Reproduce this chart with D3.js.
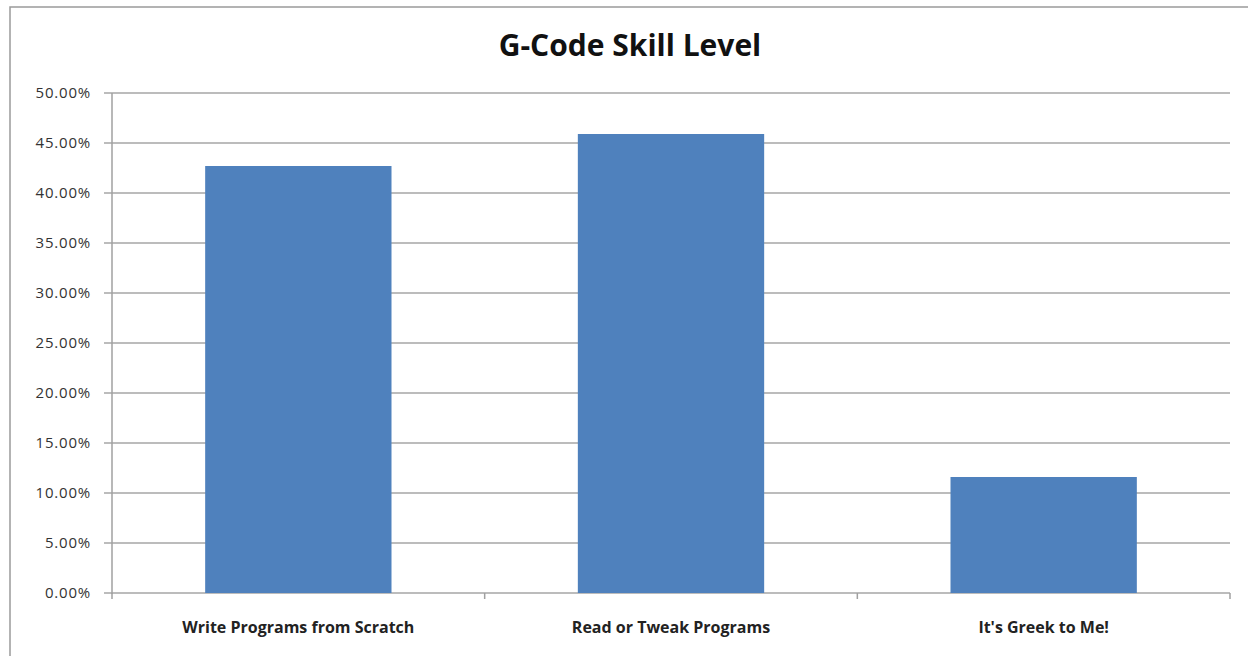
<!DOCTYPE html>
<html>
<head>
<meta charset="utf-8">
<script src="https://cdn.jsdelivr.net/npm/d3@7"></script>
<style>
  body { margin: 0; background: #fff; }
  .tick-label { font-family: "Open Sans", Lato, sans-serif; font-size: 15px; letter-spacing: 0.8px; fill: #333; }
  .cat-label { font-family: "Open Sans", Lato, sans-serif; font-size: 16px; font-weight: bold; fill: #222; }
</style>
</head>
<body>
<div id="chart"></div>
<script>
const categories = ["Write Programs from Scratch", "Read or Tweak Programs", "It's Greek to Me!"];
const values = [42.7, 45.9, 11.6];
const yTicks = [0, 5, 10, 15, 20, 25, 30, 35, 40, 45, 50];
const title = "G-Code Skill Level";

const W = 1248, H = 656;
const margin = {left: 112, right: 18, top: 93, bottom: 63};

const svg = d3.select("#chart").append("svg")
    .attr("width", W)
    .attr("height", H);

// chart box (cut off on right and bottom like the screenshot)
svg.append("rect")
    .attr("x", 10).attr("y", 7)
    .attr("width", W + 20).attr("height", H + 20)
    .attr("fill", "#fff")
    .attr("stroke", "#9a9a9a")
    .attr("stroke-width", 1.5);

const x = d3.scaleBand()
    .domain(categories)
    .range([margin.left, W - margin.right])
    .paddingInner(0.5)
    .paddingOuter(0.25);

const y = d3.scaleLinear()
    .domain([0, 50])
    .range([H - margin.bottom, margin.top]);

// gridlines
svg.append("g")
    .selectAll("line")
    .data(yTicks)
    .join("line")
    .attr("x1", margin.left - 8)
    .attr("x2", W - margin.right)
    .attr("y1", d => y(d))
    .attr("y2", d => y(d))
    .attr("stroke", "#a6a6a6")
    .attr("stroke-width", 1.5);

// y labels
svg.append("g")
    .selectAll("text")
    .data(yTicks)
    .join("text")
    .attr("class", "tick-label")
    .attr("x", margin.left - 21)
    .attr("y", d => y(d))
    .attr("dy", "0.35em")
    .attr("text-anchor", "end")
    .text(d => d.toFixed(2) + "%");

// bars
svg.append("g")
    .selectAll("rect")
    .data(values)
    .join("rect")
    .attr("x", (d, i) => x(categories[i]))
    .attr("width", x.bandwidth())
    .attr("y", d => y(d))
    .attr("height", d => y(0) - y(d))
    .attr("fill", "#4F81BD");

// y axis line
svg.append("line")
    .attr("x1", margin.left).attr("x2", margin.left)
    .attr("y1", y(50)).attr("y2", y(0) + 1)
    .attr("stroke", "#a0a0a0")
    .attr("stroke-width", 1.5);

// category dividers along the bottom
const step = x.step();
const dividers = d3.range(categories.length + 1).map(i => margin.left + i * step);
svg.append("g")
    .selectAll("line")
    .data(dividers)
    .join("line")
    .attr("x1", d => d).attr("x2", d => d)
    .attr("y1", y(0)).attr("y2", y(0) + 6)
    .attr("stroke", "#a0a0a0")
    .attr("stroke-width", 1.5);

// category labels
svg.append("g")
    .selectAll("text")
    .data(categories)
    .join("text")
    .attr("class", "cat-label")
    .attr("x", d => x(d) + x.bandwidth() / 2)
    .attr("y", y(0) + 40)
    .attr("text-anchor", "middle")
    .text(d => d);

svg.append("text")
    .attr("x", 630)
    .attr("y", 56)
    .attr("text-anchor", "middle")
    .attr("font-family", "'Open Sans', Lato, sans-serif")
    .attr("font-size", 30)
    .attr("font-weight", "bold")
    .attr("fill", "#111")
    .text(title);
</script>
</body>
</html>
